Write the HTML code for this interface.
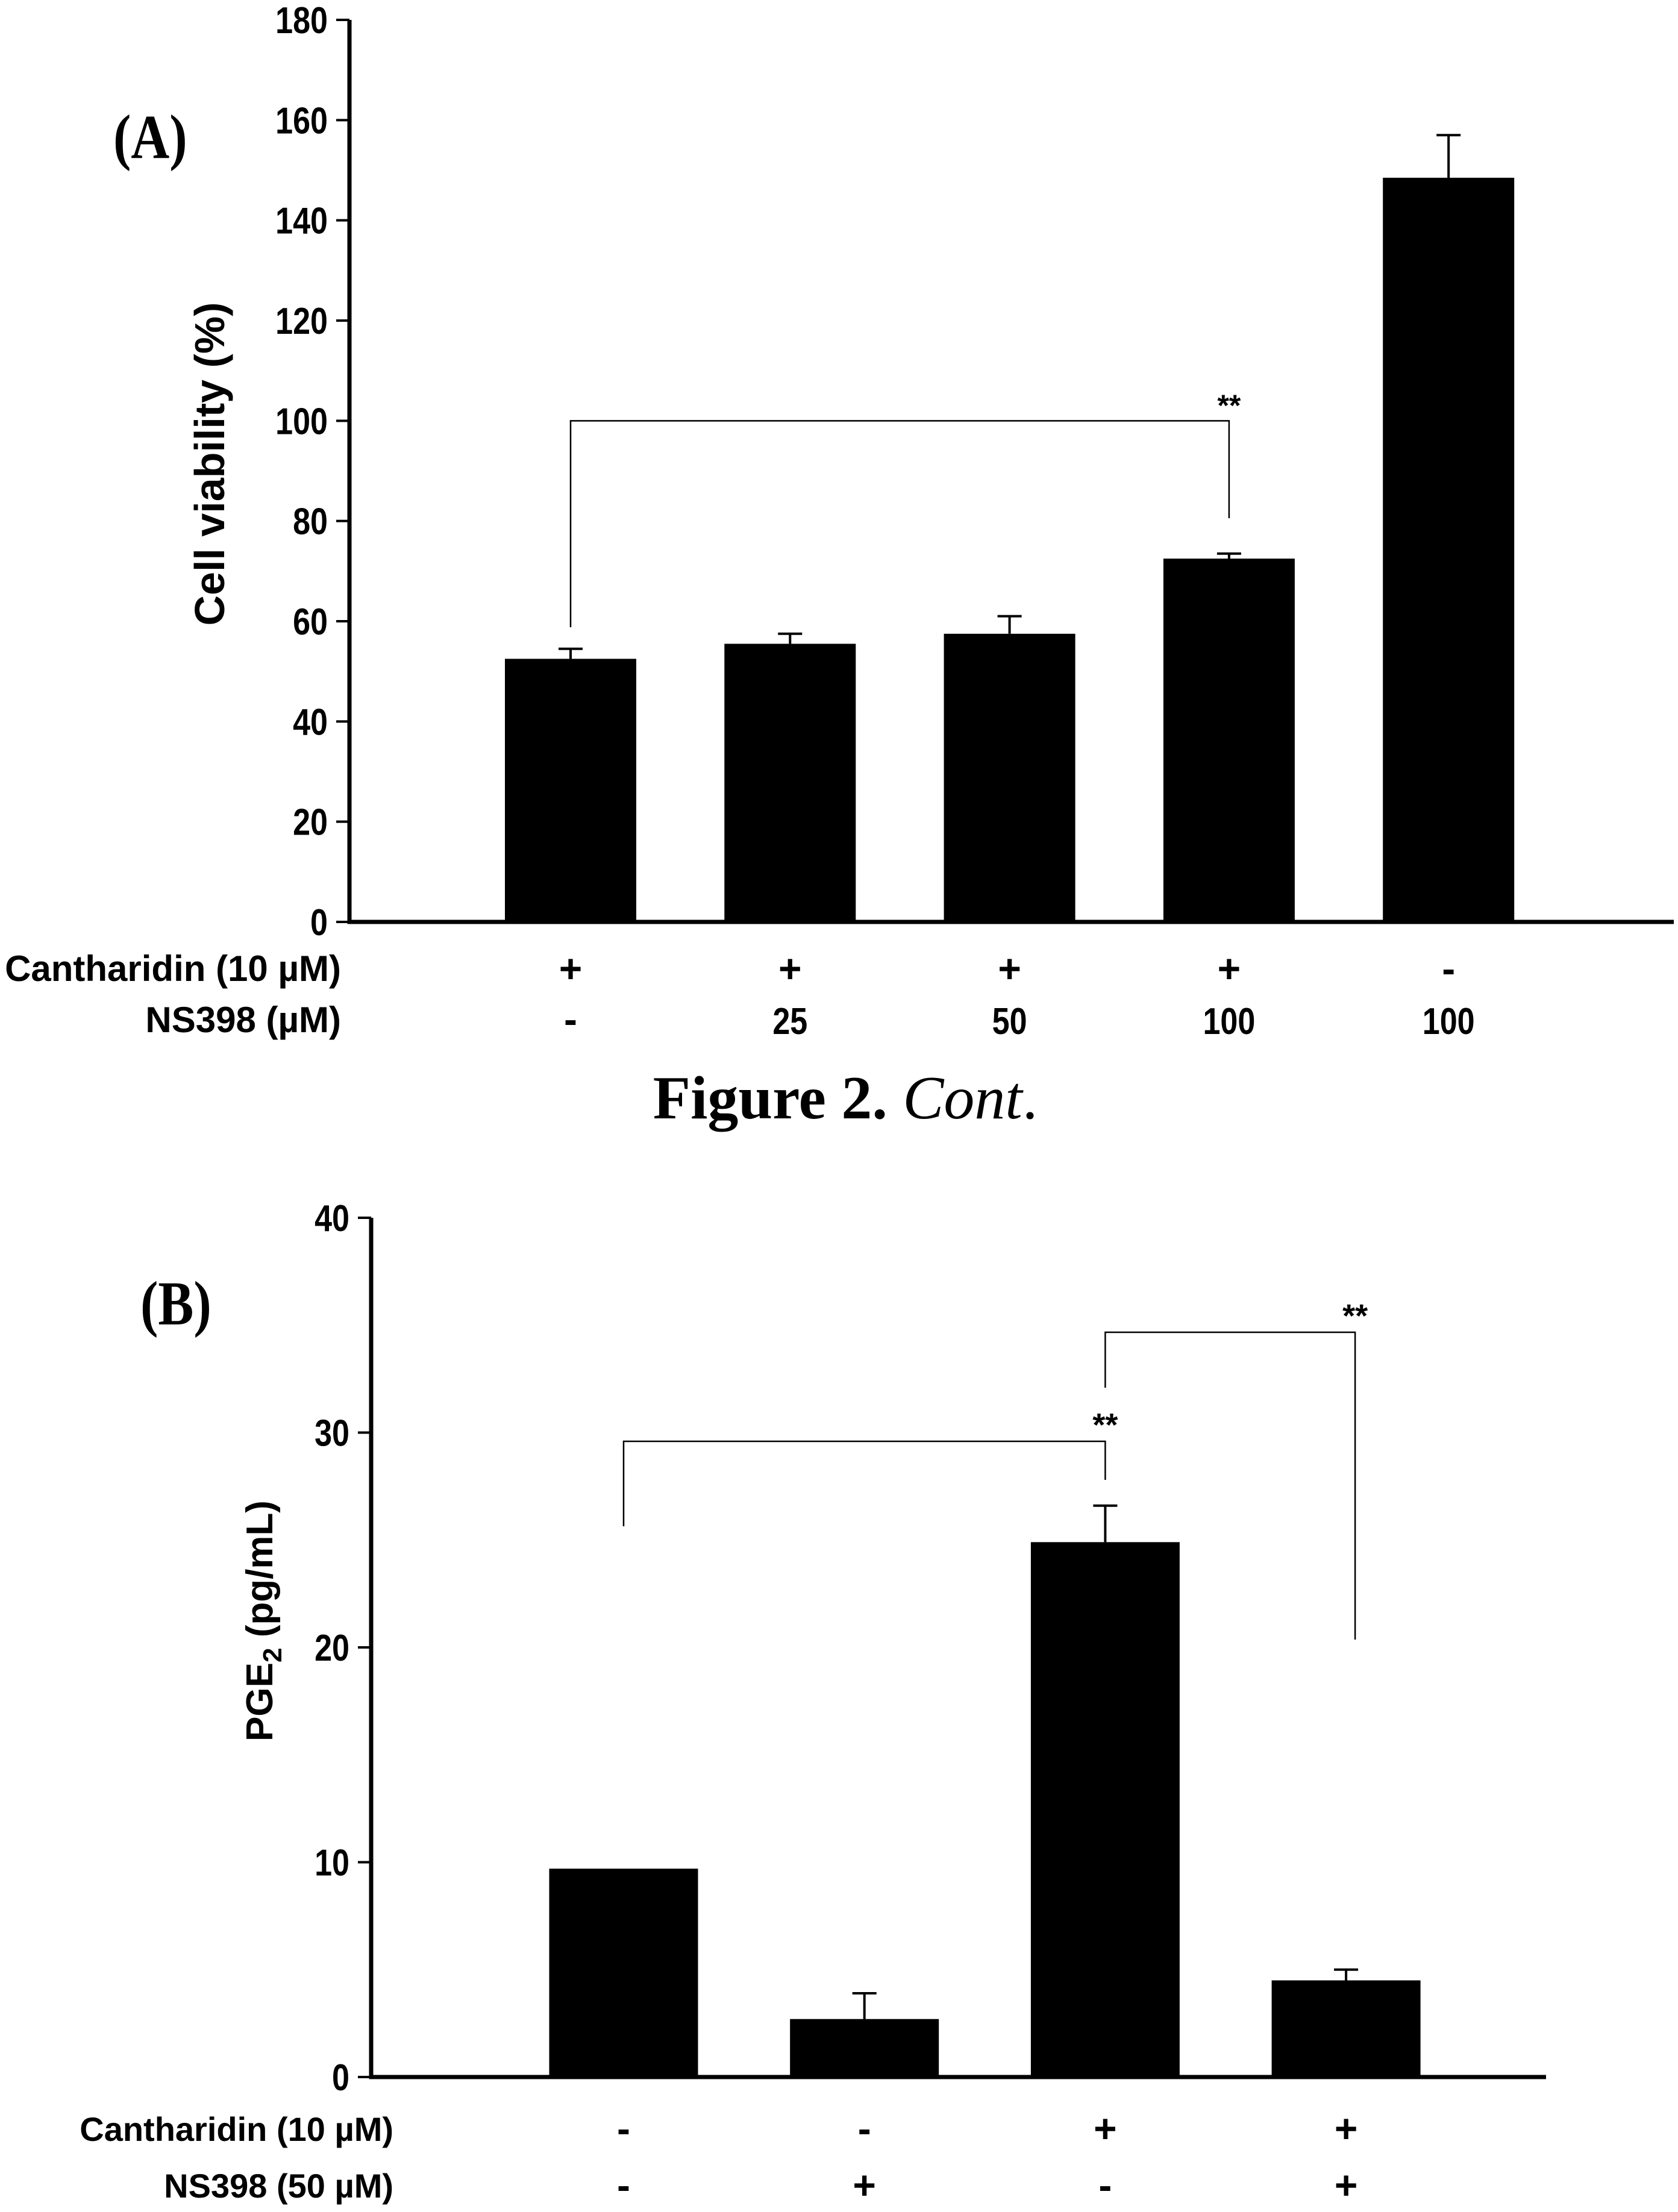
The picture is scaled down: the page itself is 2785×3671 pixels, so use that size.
<!DOCTYPE html>
<html><head><meta charset="utf-8"><style>
html,body{margin:0;padding:0;background:#fff;}
svg{display:block;}
.t{font-family:"Liberation Sans Narrow","Liberation Sans",sans-serif;font-weight:bold;fill:#000;}
.s{font-family:"Liberation Serif",serif;font-weight:bold;fill:#000;}
.a{font-family:"Liberation Sans",sans-serif;font-weight:bold;fill:#000;}
</style></head><body>
<svg id="fig" width="2785" height="3671" viewBox="0 0 2785 3671" xmlns="http://www.w3.org/2000/svg"></svg>
<script>
// Panel A data
const aCats = ["c1","c2","c3","c4","c5"];
const aValues = [52.5, 55.5, 57.5, 72.5, 148.5];
const aErrors = [2.0, 2.0, 3.5, 1.0, 8.5];
const aTicks = [0,20,40,60,80,100,120,140,160,180];
const aRow1 = ["+","+","+","+","-"];
const aRow2 = ["-","25","50","100","100"];
// Panel B data
const bCats = ["c1","c2","c3","c4"];
const bValues = [9.7, 2.7, 24.9, 4.5];
const bErrors = [0, 1.2, 1.7, 0.5];
const bTicks = [0,10,20,30,40];
const bRow1 = ["-","-","+","+"];
const bRow2 = ["-","+","-","+"];

const NS="http://www.w3.org/2000/svg";
const svg=document.getElementById('fig');
function mk(tag,attrs,parent){const e=document.createElementNS(NS,tag);for(const k in attrs)e.setAttribute(k,attrs[k]);(parent||svg).appendChild(e);return e;}
function txt(s,attrs,parent){const e=mk('text',attrs,parent);e.textContent=s;return e;}
function stxt(s,x,y,sx,attrs,parent){attrs.x=0;attrs.y=0;attrs.transform=`translate(${x},${y}) scale(${sx},1)`;return txt(s,attrs,parent);}

function panel(o){
  const g=mk('g',{});
  
  
  const y=v=>o.y0-(v-o.vmin)/(o.vmax-o.vmin)*(o.y0-o.y1);
  const x=i=>o.xc0+i*o.step;
  o.values.forEach((v,i)=>{
    const r=mk('rect',{x:x(i)-o.bw/2,y:y(v),width:o.bw,height:o.y0-y(v),fill:'#000'},g);
    
    
    if(o.errors[i]>0){
      const e=mk('path',{d:`M${x(i)},${y(v)} V${y(v+o.errors[i])} M${x(i)-20},${y(v+o.errors[i])} H${x(i)+20}`,stroke:'#000','stroke-width':4,fill:'none'},g);
      
      
    }
  });
  const ax=mk('path',{d:`M${o.ax},${o.y1} V${o.y0} H${o.xend}`,stroke:'#000','stroke-width':7,fill:'none'},g);
  
  
  o.ticks.forEach(t=>{
    mk('line',{x1:o.ax-22,x2:o.ax,y1:y(t),y2:y(t),stroke:'#000','stroke-width':4},g);
    const l=stxt(String(t),o.ax-36,y(t)+22,0.84,{'text-anchor':'end','font-size':62,class:'t'},g);
    
    
  });
  o.row1.forEach((s,i)=>{const e=txt(s,{x:x(i),y:o.r1y,'text-anchor':'middle','font-size':s=='+'||s=='-'?66:56,class:'a'},g);
    });
  o.row2.forEach((s,i)=>{
    let e;
    if(s=='+'||s=='-') e=txt(s,{x:x(i),y:o.r2y,'text-anchor':'middle','font-size':66,class:'a'},g);
    else e=stxt(s,x(i),o.r2y+2,0.84,{'text-anchor':'middle','font-size':62,class:'t'},g);
    });
  return {g,x,y};
}

// Panel A
const A=panel({name:'panel-a-chart',values:aValues,errors:aErrors,ticks:aTicks,row1:aRow1,row2:aRow2,
  ax:580,y0:1530,y1:33,vmin:0,vmax:180,xc0:947,step:364.3,bw:218,xend:2778,r1y:1630,r2y:1714});
{
  const b=mk('path',{d:`M${A.x(0)},1041 V${A.y(100)} H${A.x(3)} V860`,stroke:'#000','stroke-width':2.5,fill:'none'});
  
  const s=txt('**',{x:A.x(3),y:690,'text-anchor':'middle','font-size':50,class:'t'});
  
}
{const e=stxt('(A)',188,262,0.85,{'font-size':104,class:'s'});}
{const e=txt('Cell viability (%)',{x:0,y:0,transform:'translate(372,770) rotate(-90)','text-anchor':'middle','font-size':70,class:'a'});}
{const e=txt('Cantharidin (10 µM)',{x:566,y:1628,'text-anchor':'end','font-size':60,class:'t'});}
{const e=txt('NS398 (µM)',{x:566,y:1713,'text-anchor':'end','font-size':60,class:'t'});}
{const e=mk('text',{x:1403,y:1856,'text-anchor':'middle','font-size':102,class:'s'});e.innerHTML='Figure 2. <tspan font-style="italic" font-weight="normal">Cont</tspan><tspan font-weight="normal">.</tspan>';}

// Panel B
const B=panel({name:'panel-b-chart',values:bValues,errors:bErrors,ticks:bTicks,row1:bRow1,row2:bRow2,
  ax:616,y0:3447,y1:2021,vmin:0,vmax:40,xc0:1035,step:399.7,bw:247,xend:2566,r1y:3555,r2y:3649});
{
  const b=mk('path',{d:`M${B.x(0)},2533 V2392 H${B.x(2)} V2456`,stroke:'#000','stroke-width':2.5,fill:'none'});
  
  const b2=mk('path',{d:`M${B.x(2)},2303 V2211 H${B.x(3)+15} V2721`,stroke:'#000','stroke-width':2.5,fill:'none'});
  
  const s=txt('**',{x:B.x(2),y:2383,'text-anchor':'middle','font-size':54,class:'t'});
  
  const s2=txt('**',{x:B.x(3)+15,y:2202,'text-anchor':'middle','font-size':54,class:'t'});
  
}
{const e=stxt('(B)',233,2198,0.85,{'font-size':104,class:'s'});}
{const e=mk('text',{x:0,y:0,transform:'translate(452,2690) rotate(-90)','text-anchor':'middle','font-size':62,class:'a'});e.innerHTML='PGE<tspan font-size="44" dy="15">2</tspan><tspan dy="-15"> (pg/mL)</tspan>';}
{const e=txt('Cantharidin (10 µM)',{x:653,y:3553,'text-anchor':'end','font-size':56,class:'t'});}
{const e=txt('NS398 (50 µM)',{x:653,y:3647,'text-anchor':'end','font-size':56,class:'t'});}
</script>
</body></html>
